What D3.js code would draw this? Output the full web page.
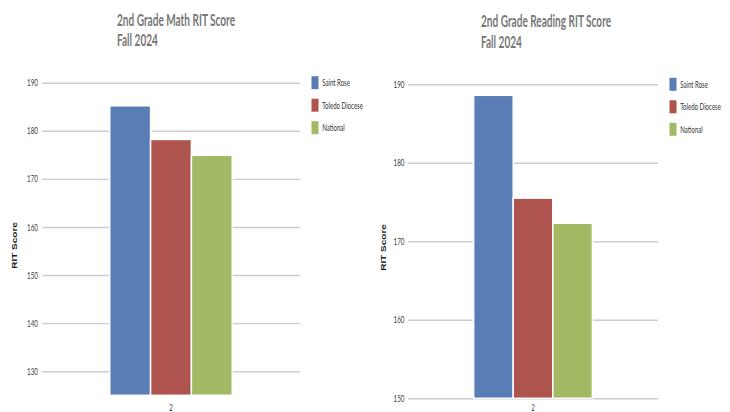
<!DOCTYPE html>
<html>
<head>
<meta charset="utf-8">
<script src="https://cdn.jsdelivr.net/npm/d3@7"></script>
<style>
  body { margin: 0; background: #fff; }
  svg { display: block; }
</style>
</head>
<body>
<svg id="chart" width="730" height="412"></svg>
<script>
const series = ["Saint Rose", "Toledo Diocese", "National"];
const grades = ["2"];
const mathScores = [185.2, 178.2, 174.9];
const readingScores = [188.6, 175.5, 172.3];
const mathTicks = [130, 140, 150, 160, 170, 180, 190];
const readingTicks = [150, 160, 170, 180, 190];
const colors = ["#5a7db6", "#ae534d", "#a1ba63"];

// the source screenshot is squeezed sideways, so all text gets narrowed
const squish = 0.66;
const titleSquish = 0.61;
const textFont = "Lato, 'Open Sans', sans-serif";

const svg = d3.select("#chart");

function drawChart(opts) {
  const g = svg.append("g");

  const y = d3.scaleLinear()
    .domain([opts.min, opts.max])
    .range([opts.y1, opts.y0]);

  const x = d3.scaleBand()
    .domain(grades)
    .range([opts.x0, opts.x1])
    .paddingInner(0)
    .paddingOuter(0.553);

  const xs = d3.scaleBand()
    .domain(series)
    .range([0, x.bandwidth()]);

  // gridlines + value labels
  g.append("g")
    .attr("transform", `translate(${opts.x0},0)`)
    .call(d3.axisLeft(y).tickValues(opts.ticks).tickSize(-(opts.x1 - opts.x0)).tickPadding(opts.labelGap))
    .call(a => a.select(".domain").remove())
    .call(a => a.selectAll(".tick line").attr("stroke", "#cdcdcd").attr("stroke-width", 1.4))
    .call(a => a.selectAll(".tick text")
      .attr("font-family", textFont)
      .attr("font-size", 9.5)
      .attr("fill", "#3a3a3a")
      .attr("x", -opts.labelGap / squish)
      .attr("transform", `scale(${squish},1)`));

  g.selectAll("rect.bar")
    .data(series.map((s, i) => ({s: s, v: opts.scores[i], c: colors[i]})))
    .enter()
    .append("rect")
    .attr("class", "bar")
    .attr("x", d => x(grades[0]) + xs(d.s))
    .attr("y", d => y(d.v))
    .attr("width", xs.bandwidth())
    .attr("height", d => y(opts.min) - y(d.v))
    .attr("fill", d => d.c)
    .attr("stroke", "#fff")
    .attr("stroke-width", 1.5);

  g.append("g")
    .attr("transform", `translate(0,${opts.y1})`)
    .call(d3.axisBottom(x).tickSize(0).tickPadding(opts.xPad))
    .call(a => a.select(".domain").remove())
    .call(a => a.selectAll(".tick text")
      .attr("font-family", textFont)
      .attr("font-size", 9.5)
      .attr("fill", "#3a3a3a")
      .attr("transform", `scale(${squish},1)`));

  // y axis title
  g.append("text")
    .attr("transform", `translate(${opts.yTitleX},${opts.yTitleY}) scale(${squish},1) rotate(-90)`)
    .attr("text-anchor", "middle")
    .attr("dy", "0.35em")
    .attr("font-family", "'Liberation Sans', Arial, sans-serif")
    .attr("font-weight", "bold")
    .attr("font-size", 10)
    .attr("fill", "#1a1a1a")
    .text("RIT Score");

  // title, two lines
  opts.title.forEach((line, i) => {
    g.append("text")
      .attr("transform", `translate(${opts.titleX},${opts.y0 - 57 + i * 20.5}) scale(${titleSquish},1)`)
      .attr("font-family", textFont)
      .attr("font-weight", "bold")
      .attr("font-size", 16.5)
      .attr("fill", "#777")
      .text(line);
  });

  // legend
  const leg = g.selectAll("g.leg")
    .data(series)
    .enter()
    .append("g")
    .attr("class", "leg")
    .attr("transform", (d, i) => `translate(${opts.x1 + 11.5},${opts.y0 + i * 22.5})`);

  leg.append("rect")
    .attr("x", 0)
    .attr("y", -6.5)
    .attr("width", 7)
    .attr("height", 13)
    .attr("fill", (d, i) => colors[i]);

  leg.append("text")
    .attr("transform", `translate(10.7,0) scale(0.61,1)`)
    .attr("dy", "0.35em")
    .attr("font-family", textFont)
    .attr("font-size", 10)
    .attr("fill", "#333")
    .text(d => d);
}

drawChart({
  title: ["2nd Grade Math RIT Score", "Fall 2024"],
  scores: mathScores, ticks: mathTicks, min: 125, max: 190,
  x0: 42, x1: 300, y0: 82.7, y1: 395.3,
  labelGap: 4, xPad: 9, titleX: 117, yTitleX: 15, yTitleY: 245.5
});

drawChart({
  title: ["2nd Grade Reading RIT Score", "Fall 2024"],
  scores: readingScores, ticks: readingTicks, min: 150, max: 190,
  x0: 408, x1: 658, y0: 84.3, y1: 398.3,
  labelGap: 3.5, xPad: 6, titleX: 481, yTitleX: 384, yTitleY: 247.5
});
</script>
</body>
</html>
